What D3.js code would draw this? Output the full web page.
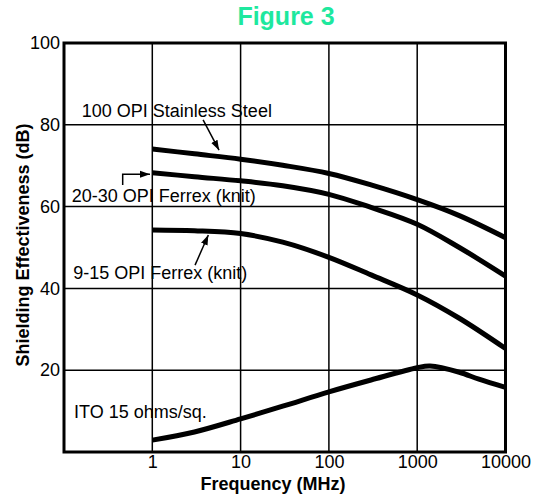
<!DOCTYPE html>
<html>
<head>
<meta charset="utf-8">
<script src="https://cdn.jsdelivr.net/npm/d3@7"></script>
<style>
  html, body { margin: 0; padding: 0; background: #fff; }
  svg { display: block; }
  text { font-family: "Liberation Sans", Arial, Helvetica, sans-serif; fill: #000; }
</style>
</head>
<body>
<div id="chart"></div>
<script>
// ---- Data ----
const freqs = [1, 3, 10, 30, 100, 300, 1000, 3000, 10000];
const stainless100 = [74.1, 72.9, 71.6, 70.1, 68.1, 65.3, 61.7, 57.8, 52.4];
const ferrex2030   = [68.3, 67.3, 66.3, 65.1, 63.0, 59.8, 55.7, 50.0, 43.0];
const ferrex915    = [54.3, 54.1, 53.4, 51.3, 47.6, 43.3, 38.4, 32.7, 25.3];
const itoFreqs  = [1, 3, 10, 30, 100, 300, 1000, 1400, 3000, 5000, 10000];
const ito15     = [2.9, 4.9, 8.1, 11.2, 14.7, 17.6, 20.6, 21.0, 19.5, 17.8, 15.8];
const xTicks = [1, 10, 100, 1000, 10000];
const yTicks = [20, 40, 60, 80, 100];
const seriesLabels = ["100 OPI Stainless Steel", "20-30 OPI Ferrex (knit)", "9-15 OPI Ferrex (knit)", "ITO 15 ohms/sq."];
const chartTitle = "Figure 3";
const xTitle = "Frequency (MHz)";
const yTitle = "Shielding Effectiveness (dB)";

// ---- Layout ----
const W = 537, H = 497;
const svg = d3.select("#chart").append("svg").attr("width", W).attr("height", H);

const x = d3.scaleLog().domain([0.1, 10000]).range([64, 505.5]);
const y = d3.scaleLinear().domain([0, 100]).range([452, 43]);

// gridlines
const grid = svg.append("g").attr("stroke", "#000").attr("stroke-width", 1.5);
grid.selectAll("line.v").data(xTicks.slice(0, -1)).join("line")
  .attr("x1", d => x(d)).attr("x2", d => x(d))
  .attr("y1", y(0)).attr("y2", y(100));
grid.selectAll("line.h").data(yTicks.slice(0, -1)).join("line")
  .attr("x1", x(0.1)).attr("x2", x(10000))
  .attr("y1", d => y(d)).attr("y2", d => y(d));

// frame
svg.append("rect")
  .attr("x", x(0.1)).attr("y", y(100))
  .attr("width", x(10000) - x(0.1)).attr("height", y(0) - y(100))
  .attr("fill", "none").attr("stroke", "#000").attr("stroke-width", 3);

// axes
const xAxis = svg.append("g").attr("transform", `translate(0,${y(0)})`)
  .call(d3.axisBottom(x).tickValues(xTicks).tickFormat(d3.format("d")).tickSize(0).tickPadding(3));
const yAxis = svg.append("g").attr("transform", `translate(${x(0.1)},0)`)
  .call(d3.axisLeft(y).tickValues(yTicks).tickFormat(d3.format("d")).tickSize(0).tickPadding(4));
[xAxis, yAxis].forEach(a => {
  a.select(".domain").remove();
  a.selectAll("text").attr("font-size", 18).attr("fill", "#000")
    .attr("font-family", '"Liberation Sans", Arial, Helvetica, sans-serif');
});

// curves
const line = d3.line().x(d => x(d[0])).y(d => y(d[1])).curve(d3.curveCatmullRom.alpha(0.5));
const seriesData = [
  d3.zip(freqs, stainless100),
  d3.zip(freqs, ferrex2030),
  d3.zip(freqs, ferrex915),
  d3.zip(itoFreqs, ito15)
];
svg.append("g").selectAll("path").data(seriesData).join("path")
  .attr("d", line).attr("fill", "none").attr("stroke", "#000")
  .attr("stroke-width", 5);

// annotations (data-space anchors)
const labelPos = [[0.159, 82.0], [0.122, 61.05], [0.127, 42.3], [0.130, 8.3]];
svg.append("g").selectAll("text").data(seriesLabels).join("text")
  .attr("x", (d, i) => x(labelPos[i][0]))
  .attr("y", (d, i) => y(labelPos[i][1]))
  .attr("font-size", 18)
  .text(d => d);

const arrows = [
  [[3.76, 81.2], [5.7, 73.8]],
  [[0.462, 65.3], [0.462, 67.9], [0.942, 67.9]],
  [[3.05, 45.7], [4.31, 53.06]]
];
const defs = svg.append("defs");
defs.append("marker").attr("id", "ah")
  .attr("viewBox", "0 0 10 10").attr("refX", 10).attr("refY", 5)
  .attr("markerWidth", 10).attr("markerHeight", 10)
  .attr("markerUnits", "userSpaceOnUse").attr("orient", "auto")
  .append("path").attr("d", "M0,1.5 L10,5 L0,8.5 Z").attr("fill", "#000");
const aLine = d3.line().x(d => x(d[0])).y(d => y(d[1]));
svg.append("g").selectAll("path").data(arrows).join("path")
  .attr("d", aLine).attr("fill", "none").attr("stroke", "#000")
  .attr("stroke-width", 1.5).attr("marker-end", "url(#ah)");

// titles
svg.append("text").attr("x", 286).attr("y", 25).attr("text-anchor", "middle")
  .attr("font-size", 25).attr("font-weight", "bold").style("fill", "#1ee89e")
  .text(chartTitle);
svg.append("text").attr("x", 273).attr("y", 490).attr("text-anchor", "middle")
  .attr("font-size", 18).attr("font-weight", "bold").text(xTitle);
svg.append("text").attr("transform", "translate(29,245) rotate(-90)")
  .attr("text-anchor", "middle").attr("font-size", 18).attr("font-weight", "bold")
  .text(yTitle);
</script>
</body>
</html>
